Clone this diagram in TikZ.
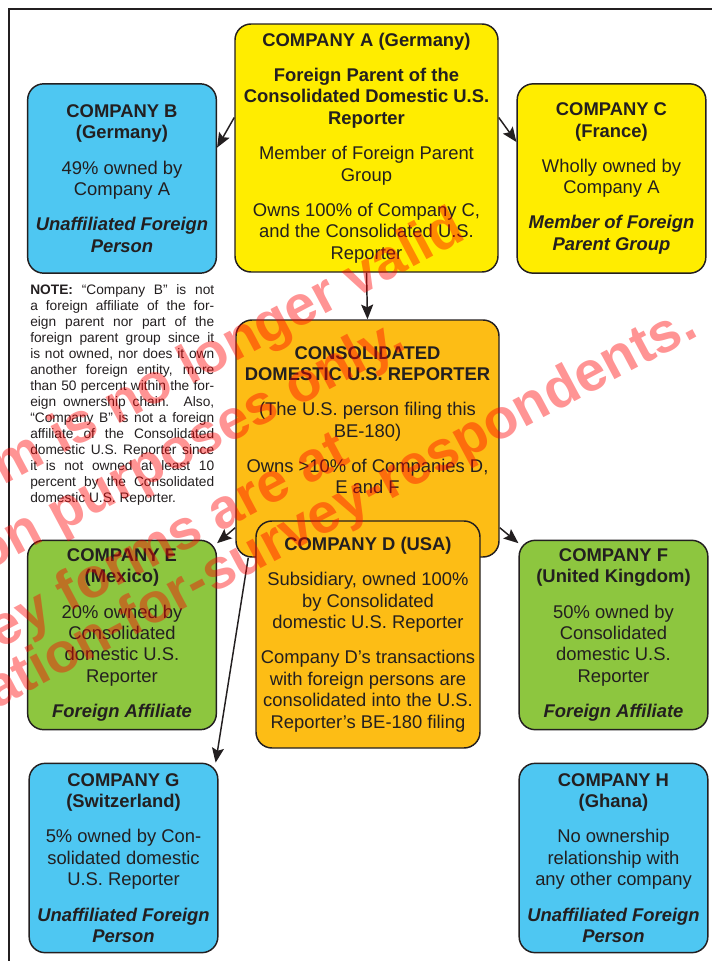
\documentclass[tikz,border=0pt]{standalone}
\usepackage{fontspec}
\setmainfont{Liberation Sans}
\usetikzlibrary{arrows.meta}

\definecolor{ink}{RGB}{35,31,32}
\definecolor{firmyellow}{RGB}{255,237,0}
\definecolor{firmblue}{RGB}{78,199,242}
\definecolor{firmorange}{RGB}{253,189,21}
\definecolor{firmgreen}{RGB}{141,198,63}

\newcommand{\boxfont}{\fontsize{13.8}{16.1}\selectfont}
\newcommand{\notefont}{\fontsize{10.3}{12}\selectfont}
\newcommand{\stampfont}{\fontsize{42}{42}\selectfont\bfseries}
\newcommand{\blockgap}{\\[10.3pt]}

\tikzset{
  firm/.style={draw=ink, line width=1.1pt, rounded corners=12pt, align=center, inner sep=0pt, text=ink, font=\boxfont},
  firmwide/.style={firm, minimum width=197.25pt, minimum height=#1},
  firmsmall/.style={firm, minimum width=141.5pt, minimum height=142pt},
  owns/.style={draw=ink, line width=1.1pt, -{Stealth[length=11pt,width=9pt,inset=2pt]}},
  stamp/.style={text=red, text opacity=0.42, font=\stampfont, rotate=28, anchor=base east, inner sep=0pt}
}

\begin{document}
\begin{tikzpicture}[x=0.75pt,y=0.75pt,yscale=-1,xscale=1]
\useasboundingbox (0,0) rectangle (712,961);

% frame
\draw[ink, line width=1.5pt] (8.5,975) -- (8.5,8.5) -- (725,8.5);

% foreign parent group
\node[firmwide=186pt, fill=firmyellow] (A) at (366.5,148) {\textbf{COMPANY A (Germany)}\blockgap
  \textbf{Foreign Parent of the}\\ \textbf{Consolidated Domestic U.S.}\\ \textbf{Reporter}\blockgap
  Member of Foreign Parent\\ Group\blockgap
  Owns 100\% of Company C,\\ and the Consolidated U.S.\\ Reporter};
\node[firmsmall, fill=firmblue] (B) at (122,178.5) {\textbf{COMPANY B}\\ \textbf{(Germany)}\blockgap
  49\% owned by\\ Company A\blockgap
  \textbf{\textit{Unaffiliated Foreign}}\\ \textbf{\textit{Person}}};
\node[firmsmall, fill=firmyellow] (C) at (611.5,178.5) {\textbf{COMPANY C}\\ \textbf{(France)}\blockgap
  Wholly owned by\\ Company A\blockgap
  \textbf{\textit{Member of Foreign}}\\ \textbf{\textit{Parent Group}}};

% note
\node[anchor=north west, text width=138pt, align=justify, inner sep=0pt, font=\notefont, text=ink] (note) at (30,284)
  {\textbf{NOTE:} ``Company B'' is not\linebreak a foreign affiliate of the for-\linebreak eign parent nor part of the\linebreak
  foreign parent group since it\linebreak is not owned, nor does it own\linebreak another foreign entity, more\linebreak
  than 50 percent within the for-\linebreak eign ownership chain. Also,\linebreak ``Company B'' is not a foreign\linebreak
  affiliate of the Consolidated\linebreak domestic U.S. Reporter since\linebreak it is not owned at least 10\linebreak
  percent by the Consolidated\linebreak domestic U.S. Reporter.};

% reporter and its holdings
\node[firmwide=177.75pt, fill=firmorange, text depth=27.75pt] (cons) at (367.5,438.5) {\textbf{CONSOLIDATED}\\ \textbf{DOMESTIC U.S. REPORTER}\blockgap
  (The U.S. person filing this\\ BE-180)\blockgap
  Owns >10\% of Companies D,\\ E and F};
\node[firm, minimum width=168pt, minimum height=170.25pt, fill=firmorange] (D) at (368,634.5) {\textbf{COMPANY D (USA)}\blockgap
  Subsidiary, owned 100\%\\ by Consolidated\\ domestic U.S. Reporter\blockgap
  Company D's transactions\\ with foreign persons are\\ consolidated into the U.S.\\ Reporter's BE-180 filing};
\node[firmsmall, fill=firmgreen] (E) at (122,635) {\textbf{COMPANY E}\\ \textbf{(Mexico)}\blockgap
  20\% owned by\\ Consolidated\\ domestic U.S.\\ Reporter\blockgap
  \textbf{\textit{Foreign Affiliate}}};
\node[firmsmall, fill=firmgreen] (F) at (613.5,635) {\textbf{COMPANY F}\\ \textbf{(United Kingdom)}\blockgap
  50\% owned by\\ Consolidated\\ domestic U.S.\\ Reporter\blockgap
  \textbf{\textit{Foreign Affiliate}}};
\node[firmsmall, fill=firmblue] (G) at (123.5,858) {\textbf{COMPANY G}\\ \textbf{(Switzerland)}\blockgap
  5\% owned by Con-\\ solidated domestic\\ U.S. Reporter\blockgap
  \textbf{\textit{Unaffiliated Foreign}}\\ \textbf{\textit{Person}}};
\node[firmsmall, fill=firmblue] (H) at (613.5,858) {\textbf{COMPANY H}\\ \textbf{(Ghana)}\blockgap
  No ownership\\ relationship with\\ any other company\blockgap
  \textbf{\textit{Unaffiliated Foreign}}\\ \textbf{\textit{Person}}};

% ownership arrows
\draw[owns] (A.167) -- (B.18);
\draw[owns] (A.13) -- (C.159);
\draw[owns] (A.south) -- (cons.north);
\draw[owns] (cons.214) -- (E.44);
\draw[owns] (cons.326) -- (F.136);
\draw[owns] (cons.225) -- (G.46);

% stamp over the page
\node[stamp] (stamp1) at (468,238) {m is no longer valid};
\node[stamp] (stamp2) at (408,348) {on purposes only.};
\node[stamp] (stamp3) at (352,462) {ey forms are at};
\node[stamp] (stamp4) at (700,335) {ation-for-survey-respondents.};

\end{tikzpicture}
\end{document}
